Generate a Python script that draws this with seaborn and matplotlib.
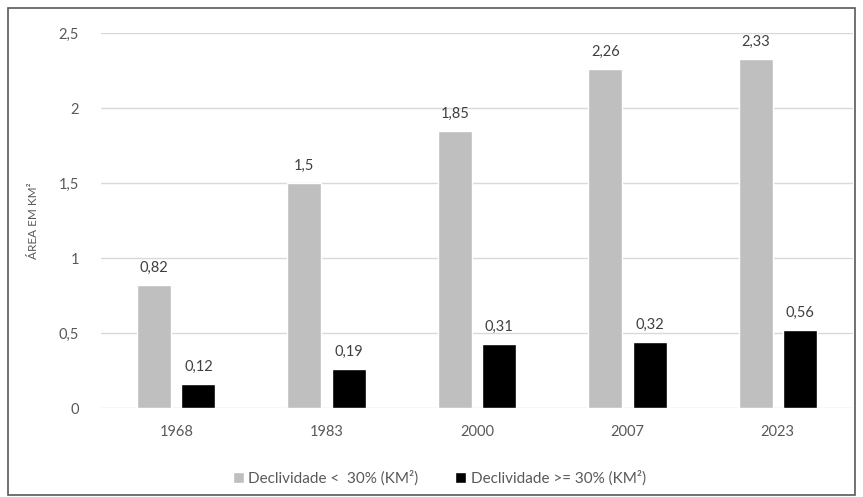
import pandas as pd
import seaborn as sns
import matplotlib.pyplot as plt
from matplotlib.patches import Rectangle

# Data
anos = ['1968', '1983', '2000', '2007', '2023']
serie_menor = 'Declividade <  30% (KM²)'
serie_maior = 'Declividade >= 30% (KM²)'
area_menor = [0.82, 1.50, 1.85, 2.26, 2.33]
area_maior = [0.16, 0.26, 0.43, 0.44, 0.52]   # bar heights as drawn
rotulo_menor = ['0,82', '1,5', '1,85', '2,26', '2,33']
rotulo_maior = ['0,12', '0,19', '0,31', '0,32', '0,56']
yticks = [0, 0.5, 1, 1.5, 2, 2.5]
ytick_labels = ['0', '0,5', '1', '1,5', '2', '2,5']

df = pd.DataFrame({
    'Ano': anos * 2,
    'Serie': [serie_menor] * len(anos) + [serie_maior] * len(anos),
    'Area': area_menor + area_maior,
})

sns.set_style('white')
plt.rcParams['font.family'] = ['Lato', 'DejaVu Sans']

fig = plt.figure(figsize=(8.63, 4.97), dpi=100)
ax = fig.add_axes([101 / 863, 1 - 408 / 497, 752 / 863, 375 / 497])

sns.barplot(data=df, x='Ano', y='Area', hue='Serie', ax=ax,
            palette=['#bfbfbf', '#000000'], width=0.59, gap=0.23,
            saturation=1, legend=True)

# data labels
for cont, rotulos in zip(ax.containers, [rotulo_menor, rotulo_maior]):
    ax.bar_label(cont, labels=rotulos, padding=7, fontsize=10.5, color='#404040')

ax.set_ylim(0, 2.5)
ax.set_yticks(yticks)
ax.set_yticklabels(ytick_labels)
ax.yaxis.grid(True, color='#d9d9d9', linewidth=1)
ax.set_axisbelow(True)
for s in ax.spines.values():
    s.set_visible(False)
ax.tick_params(axis='both', length=0, labelsize=10.5, colors='#595959')
ax.tick_params(axis='y', pad=16)
ax.tick_params(axis='x', pad=12)
ax.set_xlabel('')
ax.set_ylabel('ÁREA EM KM²', fontsize=8.5, color='#595959')
ax.yaxis.set_label_coords(-0.082, 0.5)

leg = ax.legend(loc='upper center', bbox_to_anchor=(0.45, -0.13), ncol=2,
                frameon=False, fontsize=11, handlelength=0.7, handleheight=0.7,
                handletextpad=0.3, columnspacing=2.4)
for t in leg.get_texts():
    t.set_color('#595959')

# outer border
fig.patches.append(Rectangle((8 / 863, 2 / 497), 847 / 863, 487 / 497,
                             transform=fig.transFigure, fill=False,
                             edgecolor='#595959', linewidth=1.2))

fig.savefig('out.png', dpi=100)
